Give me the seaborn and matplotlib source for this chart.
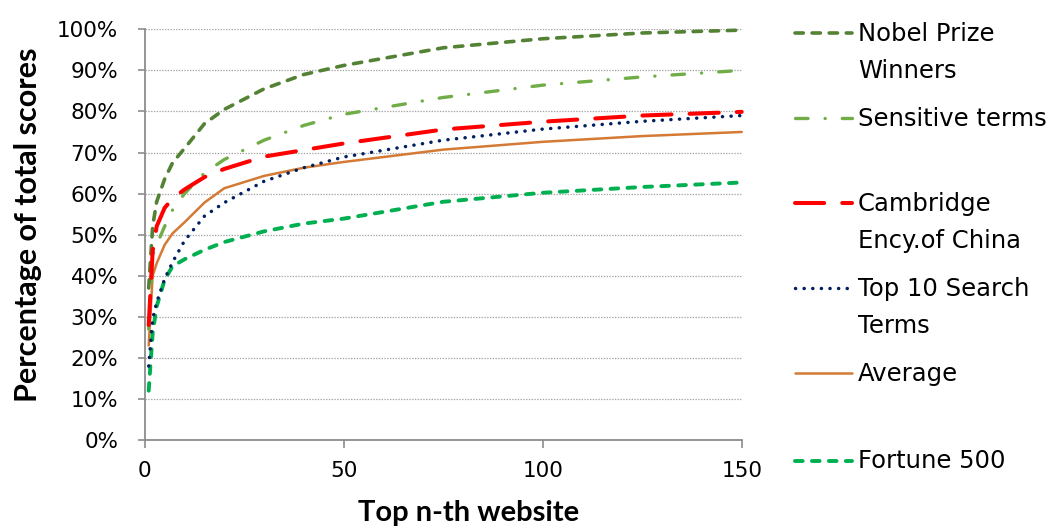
import matplotlib
matplotlib.use("Agg")
import matplotlib.pyplot as plt
import seaborn as sns
import pandas as pd
from matplotlib.ticker import PercentFormatter, MultipleLocator

# Cumulative share of total scores captured by the top-n websites
top_n = [1, 2, 3, 5, 7, 10, 15, 20, 30, 40, 50, 75, 100, 125, 150]

nobel = [37, 52, 58, 63.5, 67.5, 71, 77, 80.5, 85.5, 89, 91.2, 95.5, 97.7, 99.1, 99.8]
sensitive = [27, 45, 47.5, 52, 56, 60, 65, 68.3, 73, 76.6, 79.3, 83.4, 86.4, 88.4, 90]
cambridge = [28, 46, 52, 56.5, 58.8, 61, 64, 66, 69, 70.6, 72.2, 75.6, 77.5, 79, 79.9]
top10 = [18, 29.5, 33.5, 39.2, 43.3, 48.5, 54.5, 57.8, 63, 66.3, 68.9, 73, 75.7, 77.6, 79]
average = [23, 40, 43, 47.5, 50.3, 53, 57.8, 61.3, 64.3, 66.3, 67.7, 70.7, 72.6, 74, 75]
fortune = [12, 26, 32.5, 39, 42.3, 44, 46.3, 48.2, 50.8, 52.7, 53.9, 58, 60.2, 61.6, 62.7]

series_names = ["Nobel Prize\nWinners", "Sensitive terms", "Cambridge\nEncy.of China",
                "Top 10 Search\nTerms", "Average", "Fortune 500"]
series_values = [nobel, sensitive, cambridge, top10, average, fortune]

# line appearance per series: colour, width (pt), dash pattern (pt)
styles = [
    dict(color="#548235", lw=2.6, dashes=(6.0, 6.3)),
    dict(color="#70AD47", lw=2.4, dashes=(9.0, 12.3, 0.1, 12.3)),
    dict(color="#FF0000", lw=2.9, dashes=(21.0, 13.0)),
    dict(color="#002060", lw=2.5, dashes=(0.1, 6.1)),
    dict(color="#D47A35", lw=1.8, dashes=None),
    dict(color="#00B050", lw=2.8, dashes=(5.5, 6.7)),
]

sns.set_theme(style="white")
plt.rcParams["font.family"] = ["DejaVu Sans"]
plt.rcParams["lines.scale_dashes"] = False

W, H = 1049, 531
fig = plt.figure(figsize=(W / 100, H / 100), dpi=100)
ax = fig.add_axes([144.7 / W, 1 - 440 / H, (741.7 - 144.7) / W, (440 - 29.3) / H])

frames = []
for name, vals in zip(series_names, series_values):
    frames.append(pd.DataFrame({"n": top_n, "share": [v / 100 for v in vals], "series": name}))
df = pd.concat(frames, ignore_index=True)

draw_order = [4, 5, 3, 1, 0, 2]
for i in draw_order:
    name = series_names[i]
    st = styles[i]
    sub = df[df["series"] == name]
    sns.lineplot(data=sub, x="n", y="share", ax=ax, color=st["color"], linewidth=st["lw"],
                 estimator=None, sort=False, legend=False)
    line = ax.lines[-1]
    line.set_clip_on(False)
    line.set_dash_capstyle("round")
    line.set_solid_capstyle("round")
    line.set_solid_joinstyle("round")
    if st["dashes"] is not None:
        line.set_dashes(st["dashes"])

ax.set_xlim(0, 150)
ax.set_ylim(0, 1.0)
ax.xaxis.set_major_locator(MultipleLocator(50))
ax.yaxis.set_major_locator(MultipleLocator(0.1))
ax.yaxis.set_major_formatter(PercentFormatter(1.0, decimals=0))

ax.grid(axis="y", color="#A6A6A6", linestyle=(0, (1.0, 1.0)), linewidth=0.9)
ax.grid(axis="x", visible=False)
ax.set_axisbelow(True)

for side in ("top", "right"):
    ax.spines[side].set_visible(False)
for side in ("left", "bottom"):
    ax.spines[side].set_color("#8C8C8C")
    ax.spines[side].set_linewidth(1.3)

ax.tick_params(axis="y", which="major", direction="out", length=5, width=1.2,
               color="#8C8C8C", labelsize=15.5, pad=14, left=True, labelcolor="black")
ax.tick_params(axis="x", which="major", direction="out", length=6, width=1.2,
               color="#8C8C8C", labelsize=15.5, pad=9, bottom=True, labelcolor="black")

ax.set_xlabel("Top n-th website", family=["Lato", "DejaVu Sans"], weight="bold",
              size=21, color="black")
ax.set_ylabel("Percentage of total scores", family=["Lato", "DejaVu Sans"], weight="bold",
              size=22, color="black")
ax.xaxis.set_label_coords(0.542, -0.146)
ax.yaxis.set_label_coords(-0.172, 0.523)

# legend drawn in figure pixel space on the right
lax = fig.add_axes([0, 0, 1, 1])
lax.set_xlim(0, W)
lax.set_ylim(H, 0)
lax.axis("off")
lax.patch.set_alpha(0)
handle_y = [33.3, 118.3, 203.3, 288.3, 373.3, 460.7]
for i, (name, hy) in enumerate(zip(series_names, handle_y)):
    st = styles[i]
    (h,) = lax.plot([795, 851.5], [hy, hy], color=st["color"], linewidth=st["lw"],
                    solid_capstyle="round", dash_capstyle="round")
    if st["dashes"] is not None:
        h.set_dashes(st["dashes"])
    for k, txt in enumerate(name.split("\n")):
        lax.text(858, hy + 7.5 + 37.6 * k, txt, fontsize=17.5, va="baseline", ha="left",
                 color="black")

fig.savefig("out.png", dpi=100)
